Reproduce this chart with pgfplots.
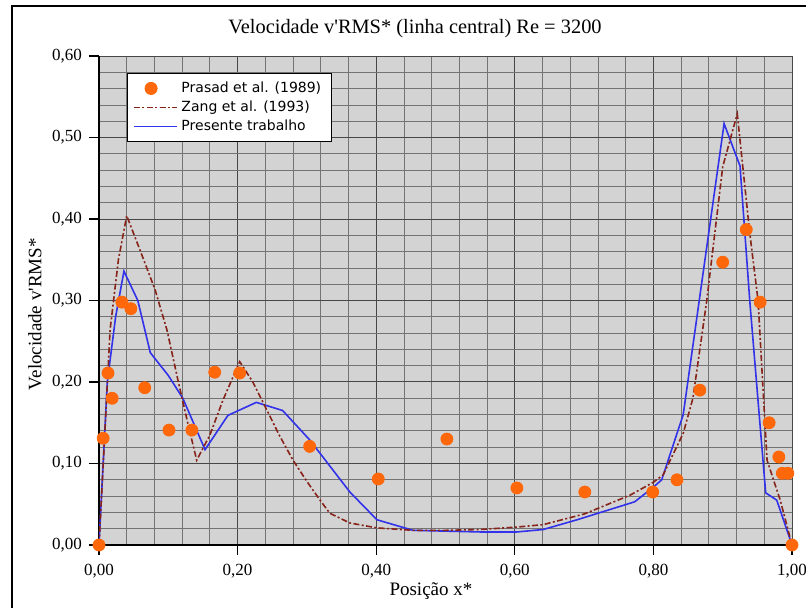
\documentclass[border=0pt]{standalone}
\usepackage{fontspec}
\setmainfont{Liberation Serif}
\newfontfamily\legendfont{DejaVu Sans}
\usepackage{pgfplots}
\pgfplotsset{compat=1.18}

\definecolor{prasad}{RGB}{255,104,10}
\definecolor{zang}{RGB}{135,35,25}
\definecolor{presente}{RGB}{50,50,235}
\definecolor{plotbg}{RGB}{211,211,211}

\begin{document}
\begin{tikzpicture}
% page extent and outer frame
\useasboundingbox (-49.5pt,-31.5pt) rectangle (353.5pt,272.5pt);
\draw[line width=0.7pt] (-43.5pt,-40pt) -- (-43.5pt,269.5pt) -- (360pt,269.5pt);
\begin{axis}[
  scale only axis, width=346.5pt, height=244.5pt,
  xmin=0, xmax=1, ymin=0, ymax=0.6,
  xtick={0,0.2,0.4,0.6,0.8,1}, ytick={0,0.1,0.2,0.3,0.4,0.5,0.6},
  minor x tick num=4, minor y tick num=4,
  grid=both,
  major grid style={black!72, line width=0.5pt},
  minor grid style={black!55, line width=0.4pt},
  axis background/.style={fill=plotbg},
  axis x line*=bottom, axis y line*=left,
  axis line style={black, line width=0.8pt, -},
  tick align=outside, major tick length=5pt, minor tick length=0pt,
  tick style={black, line width=0.6pt},
  /pgf/number format/.cd, fixed, fixed zerofill, precision=2, use comma, assume math mode=true,
  /pgfplots/.cd,
  ticklabel style={font=\fontsize{8.5}{10}\selectfont},
  xticklabel style={yshift=-1pt},
  every axis title shift=0pt,
  title={Velocidade v\textquotesingle RMS* (linha central) Re = 3200},
  title style={at={(axis description cs:0.456,1.057)}, anchor=center, font=\fontsize{10.2}{12}\selectfont},
  xlabel={Posição x*},
  xlabel style={at={(axis description cs:0.479,-0.094)}, anchor=center, font=\fontsize{9.5}{11}\selectfont},
  ylabel={Velocidade v\textquotesingle RMS*},
  ylabel style={at={(axis description cs:-0.0924,0.472)}, anchor=center, font=\fontsize{9.5}{11}\selectfont},
  legend style={at={(axis description cs:0.04,0.965)}, anchor=north west,
    font=\legendfont\fontsize{7}{8.5}\selectfont, draw=black, line width=0.5pt,
    fill=white, inner xsep=3pt, inner ysep=2pt, row sep=-1.3pt},
  legend cell align=left,
  reverse legend,
]
% present work
\addplot[presente, line width=0.8pt,
  legend image code/.code={\draw[presente, line width=0.8pt] (0cm,0cm) -- (0.75cm,0cm);}]
coordinates {
(0,0) (0.012,0.20) (0.024,0.28) (0.036,0.336) (0.056,0.30) (0.074,0.236)
(0.100,0.208) (0.121,0.180) (0.153,0.117) (0.186,0.159) (0.227,0.175)
(0.265,0.165) (0.304,0.129) (0.362,0.065) (0.401,0.031) (0.453,0.018)
(0.550,0.016) (0.603,0.016) (0.641,0.019) (0.690,0.031) (0.773,0.053)
(0.800,0.071) (0.812,0.080) (0.843,0.160) (0.902,0.517) (0.925,0.465)
(0.939,0.300) (0.962,0.064) (0.978,0.055) (1.0,0)
};
% Zang et al. (1993)
\addplot[zang, line width=0.8pt, dash pattern=on 3pt off 1.2pt on 1pt off 1.2pt,
  legend image code/.code={\draw[zang, line width=0.8pt, dash pattern=on 3pt off 1.2pt on 1pt off 1.2pt] (0cm,0cm) -- (0.75cm,0cm);}]
coordinates {
(0,0) (0.008,0.13) (0.016,0.264) (0.028,0.35) (0.040,0.404) (0.060,0.36)
(0.081,0.313) (0.098,0.264) (0.114,0.202) (0.128,0.150) (0.141,0.104)
(0.160,0.135) (0.179,0.178) (0.203,0.225) (0.222,0.200) (0.242,0.166)
(0.260,0.135) (0.280,0.104) (0.300,0.078) (0.319,0.055) (0.333,0.039)
(0.362,0.027) (0.401,0.021) (0.453,0.018) (0.500,0.018) (0.550,0.019)
(0.603,0.022) (0.641,0.025) (0.700,0.038) (0.766,0.061) (0.800,0.077)
(0.814,0.086) (0.843,0.137) (0.857,0.180) (0.877,0.300) (0.900,0.464)
(0.921,0.529) (0.929,0.464) (0.939,0.383) (0.951,0.300) (0.964,0.104)
(0.983,0.055) (1.0,0)
};
% Prasad et al. (1989)
\addplot[only marks, mark=*, mark size=3pt, color=prasad, mark options={draw=prasad, fill=prasad}]
coordinates {
(0,0) (0.006,0.131) (0.013,0.211) (0.019,0.180) (0.033,0.298) (0.046,0.290)
(0.066,0.193) (0.101,0.141) (0.134,0.141) (0.167,0.212) (0.203,0.211)
(0.304,0.121) (0.403,0.081) (0.502,0.130) (0.603,0.070) (0.701,0.065)
(0.799,0.065) (0.834,0.080) (0.867,0.190) (0.900,0.347) (0.934,0.387)
(0.954,0.298) (0.967,0.150) (0.981,0.108) (0.986,0.088) (0.994,0.088)
(1.0,0)
};
\legend{Presente trabalho, Zang et al. (1993), Prasad et al. (1989)}
\end{axis}
\end{tikzpicture}
\end{document}
